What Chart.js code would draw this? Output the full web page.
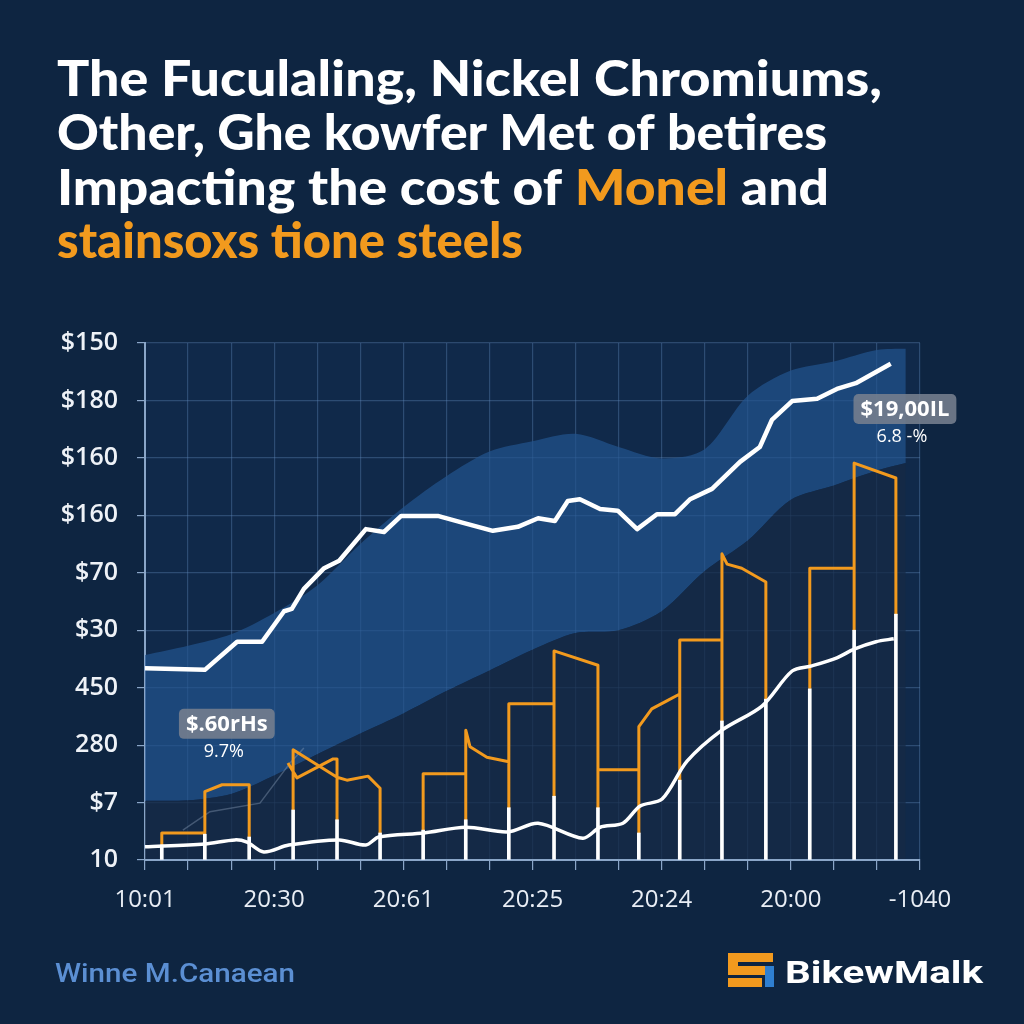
<!DOCTYPE html>
<html>
<head>
<meta charset="utf-8">
<script src="https://cdn.jsdelivr.net/npm/chart.js@4.4.1/dist/chart.umd.min.js"></script>
<style>
  html, body { margin: 0; padding: 0; background: #0e2541; }
  #wrap { width: 1024px; height: 1024px; }
</style>
</head>
<body>
<div id="wrap"><canvas id="c" width="1024" height="1024"></canvas></div>
<script>
// ---------- data ----------
const yLabels = ['10', '$7', '280', '450', '$30', '$70', '$160', '$160', '$180', '$150'];
const xLabels = ['10:01', '20:30', '20:61', '20:25', '20:24', '20:00', '-1040'];

// blue band (upper / lower edge)
const bandX     = [0, 1, 2, 3, 4, 5, 6, 7, 8, 9, 10, 11, 12, 13, 14, 15, 16, 17, 17.67];
const bandUpper = [3.57, 3.73, 3.93, 4.30, 4.78, 5.50, 6.14, 6.68, 7.11, 7.29, 7.42, 7.19, 6.99, 7.15, 8.08, 8.52, 8.68, 8.88, 8.90];
const bandLower = [1.03, 1.04, 1.15, 1.47, 1.84, 2.20, 2.55, 2.94, 3.30, 3.66, 3.95, 4.00, 4.33, 5.03, 5.56, 6.27, 6.52, 6.78, 6.91];

// upper white price line
const upperX = [0, 1.39, 2.14, 2.72, 3.23, 3.41, 3.69, 4.16, 4.51, 5.13, 5.55, 5.95, 6.80, 7.39, 8.08, 8.66, 9.13, 9.52, 9.82, 10.10, 10.57, 10.98, 11.43, 11.89, 12.31, 12.66, 13.17, 13.82, 14.28, 14.56, 15.03, 15.61, 16.07, 16.51, 17.32];
const upperY = [3.34, 3.31, 3.80, 3.80, 4.33, 4.37, 4.72, 5.08, 5.21, 5.76, 5.71, 5.99, 5.99, 5.87, 5.73, 5.80, 5.95, 5.90, 6.25, 6.28, 6.11, 6.08, 5.76, 6.02, 6.02, 6.28, 6.46, 6.93, 7.19, 7.66, 7.99, 8.03, 8.20, 8.30, 8.64];

// lower white price line
const lowerX = [0, 1.39, 2.09, 2.37, 2.76, 3.34, 4.51, 5.13, 5.43, 6.48, 7.45, 8.43, 9.13, 10.17, 10.57, 11.10, 11.50, 12.01, 12.59, 13.40, 14.33, 15.03, 15.49, 16.07, 16.47, 16.98, 17.39];
const lowerY = [0.23, 0.28, 0.35, 0.31, 0.14, 0.26, 0.35, 0.26, 0.40, 0.47, 0.57, 0.49, 0.64, 0.38, 0.57, 0.64, 0.94, 1.06, 1.72, 2.26, 2.68, 3.29, 3.38, 3.52, 3.67, 3.80, 3.85];

// white vertical stems
const stemX   = [0.39, 1.39, 2.42, 3.44, 4.46, 5.46, 6.46, 7.45, 8.45, 9.50, 10.52, 11.47, 12.42, 13.40, 14.42, 15.44, 16.47, 17.44];
const stemTop = [0.26, 0.45, 0.40, 0.87, 0.70, 0.47, 0.52, 0.70, 0.91, 1.11, 0.91, 0.47, 1.39, 2.42, 2.80, 2.98, 4.00, 4.28];

// orange step outlines (x, y pairs per stroke)
const orangeA = [[0.39,0.26],[0.39,0.47],[1.39,0.47],[1.39,1.19],[1.79,1.31],[2.42,1.31],[2.42,0.40]];
const orangeB = [[3.44,0.87],[3.44,1.92],[4.46,1.44],[4.69,1.39],[5.18,1.46],[5.46,1.25],[5.46,0.47]];
const orangeC = [[3.32,1.69],[3.53,1.43],[4.37,1.76],[4.46,1.76],[4.46,0.70]];
const orangeD = [[6.46,0.52],[6.46,1.50],[7.45,1.50],[7.45,0.70],[7.45,2.26],[7.55,1.97],[7.94,1.79],[8.45,1.71],[8.45,0.91],
                 [8.45,2.72],[9.50,2.72],[9.50,1.11],[9.50,3.64],[10.52,3.39],[10.52,0.91],[10.52,1.57],[11.47,1.57],[11.47,0.47],
                 [11.47,2.32],[11.77,2.63],[12.12,2.77],[12.42,2.89],[12.42,1.39],[12.42,3.83],[13.40,3.83],[13.40,2.42],
                 [13.40,5.33],[13.52,5.15],[13.86,5.08],[14.42,4.84],[14.42,2.80]];
const orangeE = [[15.44,2.98],[15.44,5.08],[16.47,5.08],[16.47,4.00],[16.47,6.91],[17.44,6.65],[17.44,4.28]];

// faint grey trace
const ghostX = [0.88, 1.51, 2.67, 3.37, 3.69];
const ghostY = [0.52, 0.84, 0.99, 1.69, 1.95];

// callouts
const callouts = [
  { x: 1.90, y: 2.37, label: '$.60rHs', sub: '9.7%' },
  { x: 17.65, y: 7.85, label: '$19,00IL', sub: '6.8 -%' }
];

// ---------- build ----------
const zip = (xs, ys) => xs.map((x, i) => ({ x: x, y: ys[i] }));
const strokes = (list) => {
  const out = [];
  list.forEach((s, k) => {
    if (k > 0) out.push({ x: s[0][0], y: null });
    s.forEach(p => out.push({ x: p[0], y: p[1] }));
  });
  return out;
};

const ORANGE = '#f29a1e';
const WHITE = '#ffffff';
const AXIS = '#8aa6c8';

const deco = {
  id: 'deco',
  beforeDraw(chart) {
    const { ctx, chartArea: a } = chart;
    ctx.save();
    ctx.fillStyle = '#0e2541';
    ctx.fillRect(0, 0, chart.width, chart.height);
    ctx.fillStyle = '#10294a';
    ctx.fillRect(a.left, a.top, a.right - a.left, a.bottom - a.top);
    ctx.restore();
  },
  beforeDatasetDraw(chart, args) {
    // redraw the x axis line after the base fill so it stays crisp
    if (args.index !== 4) return;
    const { ctx, chartArea: a } = chart;
    ctx.save();
    ctx.strokeStyle = AXIS;
    ctx.lineWidth = 2;
    ctx.beginPath();
    ctx.moveTo(a.left, a.bottom);
    ctx.lineTo(a.right, a.bottom);
    ctx.stroke();
    ctx.restore();
  },
  afterDraw(chart) {
    const ctx = chart.ctx;
    const xs = chart.scales.x, ys = chart.scales.y;
    ctx.save();
    const rich = (parts, x, base, target, font) => {
      ctx.font = font;
      let tot = 0;
      parts.forEach(p => tot += ctx.measureText(p[0]).width);
      const s = target / tot;
      ctx.save();
      ctx.translate(x, base);
      ctx.scale(s, 1);
      let cx = 0;
      ctx.textBaseline = 'alphabetic';
      ctx.textAlign = 'left';
      parts.forEach(p => { ctx.fillStyle = p[1]; ctx.fillText(p[0], cx, 0); cx += ctx.measureText(p[0]).width; });
      ctx.restore();
    };
    const tf = '900 50px Lato, "Open Sans", sans-serif';
    rich([['The Fuculaling, Nickel Chromiums,', WHITE]], 57, 96, 825, tf);
    rich([['Other, Ghe kowfer Met of betires', WHITE]], 57, 150, 770, tf);
    rich([['Impacting the cost of ', WHITE], ['Monel', ORANGE], [' and', WHITE]], 57, 205, 772, tf);
    rich([['stainsoxs tione steels', ORANGE]], 57, 258, 466, tf);

    callouts.forEach(c => {
      const px = xs.getPixelForValue(c.x), py = ys.getPixelForValue(c.y);
      ctx.font = 'bold 22px "Open Sans", sans-serif';
      const w = ctx.measureText(c.label).width + 14, h = 30;
      ctx.fillStyle = 'rgba(118,128,142,0.88)';
      ctx.beginPath();
      ctx.roundRect(px - w / 2, py - h / 2, w, h, 5);
      ctx.fill();
      ctx.fillStyle = WHITE;
      ctx.textAlign = 'center';
      ctx.textBaseline = 'middle';
      ctx.fillText(c.label, px, py + 1);
      ctx.font = '18px "Open Sans", sans-serif';
      ctx.fillText(c.sub, px - 3, py + 28);
    });

    rich([['Winne M.Canaean', '#5b8fd3']], 55, 982, 240, '500 25px Roboto, sans-serif');
    rich([['BikewMalk', WHITE]], 785, 983, 198, 'bold 31px Roboto, sans-serif');
    ctx.fillStyle = ORANGE;
    ctx.fillRect(728, 953, 45, 9);
    ctx.fillRect(728, 953, 10, 22);
    ctx.fillRect(728, 966, 37, 9);
    ctx.fillRect(728, 978, 34, 9);
    ctx.fillStyle = '#2f7fd0';
    ctx.fillRect(765, 966, 9, 21);
    ctx.restore();
  }
};

new Chart(document.getElementById('c'), {
  type: 'line',
  data: {
    datasets: [
      { label: 'band', data: zip(bandX, bandUpper), borderWidth: 0, pointRadius: 0, fill: '+1',
        backgroundColor: 'rgba(34,84,142,0.7)', order: 10, tension: 0.3 },
      { label: 'base', data: zip(bandX, bandLower), borderWidth: 0, pointRadius: 0, fill: 'origin',
        backgroundColor: 'rgba(22,42,70,0.75)', order: 9, tension: 0.3 },
      { label: 'ghost', data: zip(ghostX, ghostY), borderColor: 'rgba(140,160,185,0.4)', borderWidth: 1.5,
        pointRadius: 0, fill: false, order: 8 },
      { label: 'orange', data: strokes([orangeA, orangeB, orangeC, orangeD, orangeE]), borderColor: ORANGE,
        borderWidth: 3, pointRadius: 0, fill: false, spanGaps: false, order: 5, borderJoinStyle: 'round' },
      { type: 'bar', label: 'stems', data: zip(stemX, stemTop), backgroundColor: WHITE, barThickness: 3,
        grouped: false, order: 4 },
      { label: 'upper', data: zip(upperX, upperY), borderColor: WHITE, borderWidth: 4.5, pointRadius: 0,
        fill: false, order: 2, borderJoinStyle: 'round' },
      { label: 'lower', data: zip(lowerX, lowerY), borderColor: WHITE, borderWidth: 3.5, pointRadius: 0,
        fill: false, order: 1, tension: 0.3 }
    ]
  },
  options: {
    responsive: false,
    animation: false,
    devicePixelRatio: 1,
    layout: { padding: { left: 0, right: 104, top: 343, bottom: 104 } },
    plugins: { legend: { display: false }, tooltip: { enabled: false }, title: { display: false } },
    scales: {
      x: {
        type: 'linear', min: 0, max: 18, offset: false,
        afterFit: s => { s.height = 60; },
        border: { color: AXIS, width: 2 },
        grid: { color: 'rgba(95,135,185,0.38)', lineWidth: 1.2, tickLength: 10, tickColor: AXIS, offset: false },
        ticks: {
          stepSize: 1, maxTicksLimit: 100, autoSkip: false, maxRotation: 0, padding: 16,
          color: '#e9eef5', font: { family: '"Open Sans", sans-serif', size: 24 },
          callback: v => (v % 3 === 0 ? xLabels[v / 3] : '')
        }
      },
      y: {
        type: 'linear', min: 0, max: 9,
        afterFit: s => { s.width = 145; },
        border: { color: AXIS, width: 2 },
        grid: { color: 'rgba(95,135,185,0.38)', lineWidth: 1.2, tickLength: 8, tickColor: AXIS },
        ticks: {
          stepSize: 1, maxTicksLimit: 100, padding: 19,
          color: '#eef2f7', font: { family: '"Open Sans", sans-serif', size: 25, weight: '600' },
          callback: v => yLabels[v]
        }
      }
    }
  },
  plugins: [deco]
});
</script>
</body>
</html>
